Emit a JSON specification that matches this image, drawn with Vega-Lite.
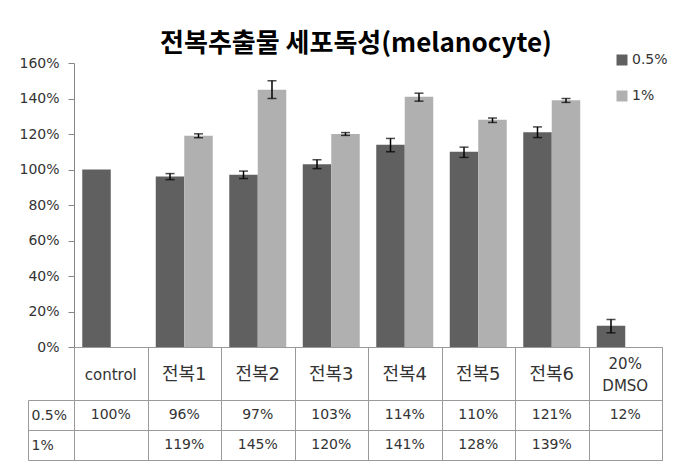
{
  "$schema": "https://vega.github.io/schema/vega-lite/v6.json",
  "background": "white",
  "padding": {"left": 18, "top": 31, "right": 5, "bottom": 5},
  "spacing": 0,
  "bounds": "flush",
  "datasets": {
    "d": [
      {"cat": "control", "series": "0.5%", "v": 1.00},
      {"cat": "전복1", "series": "0.5%", "v": 0.96, "lo": 0.943, "hi": 0.977},
      {"cat": "전복1", "series": "1%", "v": 1.19, "lo": 1.179, "hi": 1.201},
      {"cat": "전복2", "series": "0.5%", "v": 0.97, "lo": 0.949, "hi": 0.991},
      {"cat": "전복2", "series": "1%", "v": 1.45, "lo": 1.40, "hi": 1.50},
      {"cat": "전복3", "series": "0.5%", "v": 1.03, "lo": 1.005, "hi": 1.055},
      {"cat": "전복3", "series": "1%", "v": 1.20, "lo": 1.192, "hi": 1.208},
      {"cat": "전복4", "series": "0.5%", "v": 1.14, "lo": 1.10, "hi": 1.175},
      {"cat": "전복4", "series": "1%", "v": 1.41, "lo": 1.385, "hi": 1.43},
      {"cat": "전복5", "series": "0.5%", "v": 1.10, "lo": 1.068, "hi": 1.126},
      {"cat": "전복5", "series": "1%", "v": 1.28, "lo": 1.265, "hi": 1.29},
      {"cat": "전복6", "series": "0.5%", "v": 1.21, "lo": 1.18, "hi": 1.24},
      {"cat": "전복6", "series": "1%", "v": 1.39, "lo": 1.378, "hi": 1.40},
      {"cat": "20% DMSO", "series": "0.5%", "v": 0.12, "lo": 0.08, "hi": 0.155}
    ]
  },
  "config": {
    "view": {"stroke": "#9a9a9a"},
    "font": "DejaVu Sans, Noto Sans CJK KR",
    "concat": {"spacing": 0},
    "axis": {"labelOverlap": false},
    "axisY": {"labelOverlap": false}
  },
  "vconcat": [
    {
      "width": 588,
      "height": 284,
      "view": {"stroke": null},
      "title": {"text": "전복추출물 세포독성(melanocyte)", "font": "Noto Sans CJK KR", "fontSize": 26, "fontWeight": "bold", "color": "#000", "anchor": "middle", "dx": -12, "offset": -1},
      "data": {"name": "d"},
      "encoding": {
        "x": {"field": "cat", "type": "nominal", "sort": ["control", "전복1", "전복2", "전복3", "전복4", "전복5", "전복6", "20% DMSO"], "scale": {"paddingInner": 0, "paddingOuter": 0}, "axis": null},
        "xOffset": {"field": "series", "type": "nominal", "scale": {"domain": ["0.5%", "1%"], "paddingInner": 0, "paddingOuter": 0.29}}
      },
      "layer": [
        {
          "mark": {"type": "bar"},
          "encoding": {
            "y": {"field": "v", "type": "quantitative", "title": null, "scale": {"domain": [0, 1.6], "nice": false},
              "axis": {"values": [0, 0.2, 0.4, 0.6, 0.8, 1.0, 1.2, 1.4, 1.6], "format": ".0%", "labelOverlap": false, "grid": false, "domainColor": "#868686", "tickColor": "#868686", "tickSize": 6, "labelPadding": 9, "labelFontSize": 14, "labelFont": "DejaVu Sans", "labelColor": "#333"}},
            "color": {"field": "series", "type": "nominal", "scale": {"domain": ["0.5%", "1%"], "range": ["#606060", "#b0b0b0"]},
              "legend": {"orient": "none", "legendX": 541, "legendY": -10, "title": null, "symbolType": "square", "symbolSize": 121, "symbolStrokeWidth": 0, "symbolOpacity": 1, "labelFontSize": 14, "labelFont": "DejaVu Sans", "labelColor": "#333", "rowPadding": 22, "labelOffset": 3}}
          }
        },
        {
          "mark": {"type": "rule", "color": "black", "strokeWidth": 1.5},
          "encoding": {"y": {"field": "lo", "type": "quantitative", "title": null,
              "axis": {"values": [0, 0.2, 0.4, 0.6, 0.8, 1.0, 1.2, 1.4, 1.6], "format": ".0%", "labelOverlap": false, "grid": false, "domainColor": "#868686", "tickColor": "#868686", "tickSize": 6, "labelPadding": 9, "labelFontSize": 14, "labelFont": "DejaVu Sans", "labelColor": "#333"}},
            "y2": {"field": "hi"}}
        },
        {
          "mark": {"type": "tick", "color": "black", "thickness": 1.5, "size": 9, "orient": "horizontal"},
          "encoding": {"y": {"field": "lo", "type": "quantitative", "title": null,
              "axis": {"values": [0, 0.2, 0.4, 0.6, 0.8, 1.0, 1.2, 1.4, 1.6], "format": ".0%", "labelOverlap": false, "grid": false, "domainColor": "#868686", "tickColor": "#868686", "tickSize": 6, "labelPadding": 9, "labelFontSize": 14, "labelFont": "DejaVu Sans", "labelColor": "#333"}}}
        },
        {
          "mark": {"type": "tick", "color": "black", "thickness": 1.5, "size": 9, "orient": "horizontal"},
          "encoding": {"y": {"field": "hi", "type": "quantitative", "title": null,
              "axis": {"values": [0, 0.2, 0.4, 0.6, 0.8, 1.0, 1.2, 1.4, 1.6], "format": ".0%", "labelOverlap": false, "grid": false, "domainColor": "#868686", "tickColor": "#868686", "tickSize": 6, "labelPadding": 9, "labelFontSize": 14, "labelFont": "DejaVu Sans", "labelColor": "#333"}}}
        }
      ]
    },
    {
      "width": 588,
      "height": 53,
      "data": {"name": "d"},
      "transform": [{"filter": "datum.series == '0.5%'"}],
      "encoding": {
        "x": {"field": "cat", "type": "nominal", "sort": ["control", "전복1", "전복2", "전복3", "전복4", "전복5", "전복6", "20% DMSO"], "scale": {"paddingInner": 0, "paddingOuter": 0},
          "axis": {"title": null, "labels": false, "ticks": false, "domain": false, "grid": true, "tickBand": "extent", "gridColor": "#9a9a9a", "gridOpacity": 1}},
        "text": {"field": "cat"}
      },
      "layer": [
        {
          "transform": [{"filter": "datum.cat != '20% DMSO'"}],
          "mark": {"type": "text", "color": "#333", "font": "DejaVu Sans, Noto Sans CJK KR", "dy": 1},
          "encoding": {
            "size": {"condition": {"test": "indexof(datum.cat, '전복') >= 0", "value": 18}, "value": 15}
          }
        },
        {
          "transform": [{"filter": "datum.cat == '20% DMSO'"}],
          "mark": {"type": "text", "lineBreak": " ", "lineHeight": 22, "color": "#333", "font": "DejaVu Sans", "fontSize": 15, "dy": -10}
        }
      ]
    },
    {
      "width": 588,
      "height": 60,
      "data": {"name": "d"},
      "mark": {"type": "text", "fontSize": 14, "color": "#333", "font": "DejaVu Sans"},
      "encoding": {
        "x": {"field": "cat", "type": "nominal", "sort": ["control", "전복1", "전복2", "전복3", "전복4", "전복5", "전복6", "20% DMSO"], "scale": {"paddingInner": 0, "paddingOuter": 0},
          "axis": {"title": null, "labels": false, "ticks": false, "domain": false, "grid": true, "tickBand": "extent", "gridColor": "#9a9a9a", "gridOpacity": 1}},
        "y": {"field": "series", "type": "nominal", "sort": ["0.5%", "1%"], "scale": {"paddingInner": 0, "paddingOuter": 0},
          "axis": {"title": null, "orient": "left", "offset": 46, "domainColor": "#9a9a9a", "tickColor": "#9a9a9a", "tickSize": -46, "tickBand": "extent", "grid": true, "gridColor": "#9a9a9a", "gridOpacity": 1, "labelAlign": "left", "labelPadding": 43, "labelFontSize": 14, "labelFont": "DejaVu Sans", "labelColor": "#333"}},
        "text": {"field": "v", "type": "quantitative", "format": ".0%"}
      }
    }
  ]
}
